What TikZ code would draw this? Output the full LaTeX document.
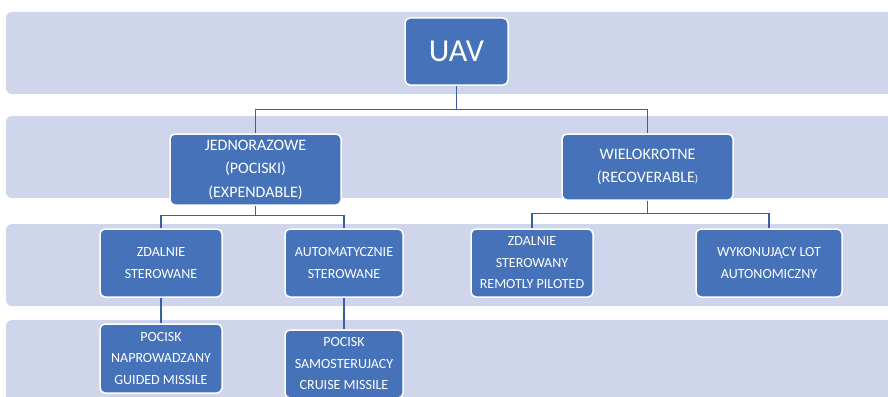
\documentclass[tikz,border=0pt]{standalone}
\usepackage{fontspec}
\setmainfont{Carlito}
\definecolor{bandfill}{RGB}{207,213,234}
\definecolor{boxfill}{RGB}{70,114,185}
\definecolor{linkcol}{RGB}{58,96,164}

\begin{document}
\begin{tikzpicture}[x=1pt,y=-1pt,
  band/.style={fill=bandfill,rounded corners=6pt},
  box/.style={draw=white,line width=1.5pt,fill=boxfill,rounded corners=5pt,
    text=white,align=center,inner sep=0pt},
  lvltwo/.style={box,font=\fontsize{16}{23.5}\selectfont},
  lvlthree/.style={box,font=\fontsize{14}{21.5}\selectfont},
  link/.style={linkcol,line width=1.4pt}]
  \useasboundingbox (0,0) rectangle (888,396);
  \clip (0,0) rectangle (888,396);
  % background bands
  \fill[band] (6,12) rectangle (900,94);
  \fill[band] (6,116) rectangle (900,198);
  \fill[band] (6,224) rectangle (900,306);
  \fill[band] (6,320) rectangle (900,410);

  \node[box,font=\fontsize{32}{36}\selectfont,minimum width=103pt,minimum height=67pt] (uav) at (456.5,51.5) {UAV};

  \node[lvltwo,minimum width=171pt,minimum height=71pt] (jedn) at (255.5,169.5) {JEDNORAZOWE\\(POCISKI)\\(EXPENDABLE)};
  \node[lvltwo,minimum width=171pt,minimum height=66pt] (wielo) at (647.5,167) {WIELOKROTNE\\(RECOVERABLE{\fontsize{11}{11}\selectfont)}};

  \node[lvlthree,minimum width=122pt,minimum height=68pt] (zdalne) at (161,263) {ZDALNIE\\STEROWANE};
  \node[lvlthree,minimum width=118pt,minimum height=68pt] (automat) at (344,263) {AUTOMATYCZNIE\\STEROWANE};
  \node[lvlthree,minimum width=122pt,minimum height=68pt] (zdalny) at (532,263) {ZDALNIE\\STEROWANY\\REMOTLY PILOTED};
  \node[lvlthree,minimum width=146pt,minimum height=68pt] (wykon) at (769,263) {WYKONUJĄCY LOT\\AUTONOMICZNY};

  \node[lvlthree,minimum width=122pt,minimum height=69pt] (guided) at (161,358.5) {POCISK\\NAPROWADZANY\\GUIDED MISSILE};
  \node[lvlthree,minimum width=118pt,minimum height=68pt] (cruise) at (344,364) {POCISK\\SAMOSTERUJACY\\CRUISE MISSILE};

  % connectors
  \draw[link] (uav.south) -- ++(0,24) -| (jedn.north);
  \draw[link] (uav.south) -- ++(0,24) -| (wielo.north);
  \draw[link] (jedn.south) -- ++(0,10) -| (zdalne.north);
  \draw[link] (jedn.south) -- ++(0,10) -| (automat.north);
  \draw[link] (wielo.south) -- ++(0,13) -| (zdalny.north);
  \draw[link] (wielo.south) -- ++(0,13) -| (wykon.north);
  \draw[link] (zdalne.south) -- (guided.north);
  \draw[link] (automat.south) -- (cruise.north);
\end{tikzpicture}
\end{document}
